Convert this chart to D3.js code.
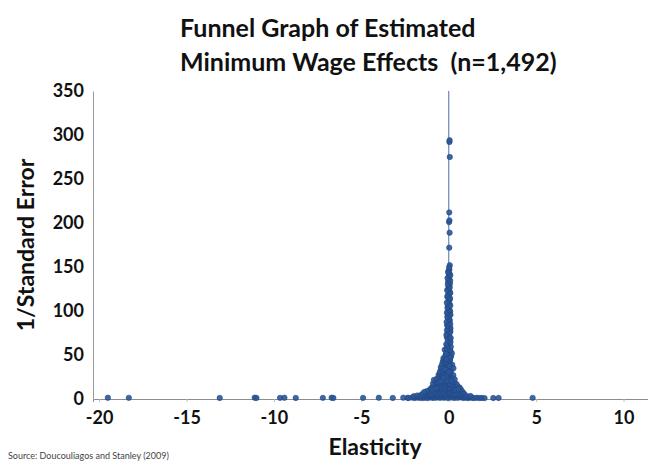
<!DOCTYPE html>
<html>
<head>
<meta charset="utf-8">
<script src="https://cdn.jsdelivr.net/npm/d3@7"></script>
<style>
  body { margin: 0; background: #fff; }
  text { font-family: Lato, "Open Sans", sans-serif; }
</style>
</head>
<body>
<div id="funnel"></div>
<script>
// tick labels
var xTicks = [-20, -15, -10, -5, 0, 5, 10];
var yTicks = [0, 50, 100, 150, 200, 250, 300, 350];

// low precision estimates scattered along the axis  [elasticity, 1/SE]
var tailPoints = [
  [-19.5, 1.4], [-18.3, 1.3], [-13.1, 1.2], [-11.1, 1.5], [-11.0, 1.2],
  [-9.65, 1.3], [-9.4, 1.4], [-8.75, 1.2], [-7.2, 1.3], [-6.7, 1.5],
  [-6.6, 1.2], [-4.9, 1.3], [-4.0, 1.4], [-3.2, 1.2], [-2.6, 1.5],
  [-2.35, 1.3], [2.55, 1.1], [2.85, 1.2], [4.8, 1.3]
];

// the broad base of the funnel
var basePoints = [
  [-2.3, 1.2], [-2.1, 1.6], [-1.95, 1.1], [-1.82, 1.8], [-1.7, 1.3], [-1.6, 2.1],
  [-1.52, 1.0], [-1.44, 2.6], [-1.36, 1.4], [-1.28, 2.9], [-1.21, 1.1], [-1.15, 3.4],
  [-1.08, 1.7], [-1.02, 2.4], [-0.96, 3.8], [-0.9, 1.2], [-0.84, 2.8], [-0.78, 4.1],
  [-0.72, 1.5], [-0.66, 3.2], [-0.6, 2.2], [-0.55, 4.6], [-0.5, 1.3], [-0.44, 3.6],
  [-0.38, 2.0], [-0.33, 4.9], [-0.27, 1.4], [-0.22, 3.1], [-0.16, 2.3], [-0.1, 4.4],
  [-0.05, 1.1], [0.02, 2.7], [0.08, 3.9], [0.14, 1.6], [0.2, 2.9], [0.26, 4.2],
  [0.32, 1.2], [0.38, 3.3], [0.45, 2.1], [0.52, 1.4], [0.6, 3.0], [0.68, 1.8],
  [0.76, 2.5], [0.84, 1.2], [0.93, 2.0], [1.02, 1.5], [1.12, 1.1], [1.22, 1.9],
  [1.33, 1.3], [1.45, 1.0], [1.6, 1.4], [1.75, 1.1], [1.9, 1.2], [2.05, 1.0],
  [-2.0, 3.2], [-1.8, 3.9], [-1.6, 4.3], [-1.3, 4.6], [-1.0, 4.8], [-0.7, 5.2],
  [-0.4, 5.4], [-0.15, 5.1], [0.1, 5.3], [0.35, 4.7], [0.6, 4.9], [0.85, 3.6],
  [1.05, 3.2], [1.25, 3.4],
  [-1.5, 5.8], [-1.3, 6.4], [-1.18, 7.9], [-1.05, 5.5], [-0.98, 8.6], [-0.88, 6.2],
  [-0.8, 9.4], [-0.74, 7.1], [-0.66, 10.2], [-0.6, 6.0], [-0.53, 8.3], [-0.47, 11.0],
  [-0.42, 6.8], [-0.37, 9.6], [-0.31, 7.5], [-0.26, 10.8], [-0.21, 5.9], [-0.16, 8.9],
  [-0.11, 11.6], [-0.06, 7.2], [-0.01, 9.9], [0.04, 6.4], [0.09, 8.1], [0.15, 10.5],
  [0.21, 6.9], [0.27, 9.2], [0.34, 5.7], [0.42, 7.8], [0.5, 6.3], [0.58, 8.8],
  [0.67, 5.4], [0.78, 6.7], [0.9, 5.6], [0.8, 8.0], [0.7, 10.8], [-1.1, 10.3],
  [-1.25, 9.0], [-1.4, 8.0]
];

// the body of the funnel, getting narrower with precision
var bodyPoints = [
  [-1.0, 12.5], [-0.88, 14.1], [-0.78, 13.0], [-0.7, 16.2], [-0.62, 12.8], [-0.55, 15.4],
  [-0.49, 18.0], [-0.43, 13.6], [-0.38, 16.9], [-0.33, 19.5], [-0.28, 14.3], [-0.23, 17.4],
  [-0.18, 12.9], [-0.13, 15.8], [-0.08, 19.0], [-0.03, 13.4], [0.02, 16.6], [0.07, 12.2],
  [0.12, 14.9], [0.18, 18.1], [0.25, 13.1], [0.32, 15.6], [0.4, 12.7], [0.5, 14.4],
  [0.62, 13.2], [-0.9, 17.5], [-0.75, 19.8], [-0.92, 10.8], [-0.72, 12.0], [0.38, 10.6],
  [0.45, 17.0], [0.55, 11.4], [0.22, 16.4], [0.3, 19.2], [0.05, 17.8],
  [-0.85, 21.6], [-0.62, 21.0], [-0.55, 24.5], [-0.48, 22.1], [-0.42, 26.3], [-0.37, 23.2],
  [-0.32, 28.4], [-0.27, 21.5], [-0.22, 25.1], [-0.17, 29.3], [-0.12, 22.8], [-0.07, 26.7],
  [-0.02, 24.0], [0.03, 28.0], [0.08, 21.9], [0.13, 25.6], [0.19, 23.3], [0.26, 27.1],
  [0.34, 22.4], [-0.68, 23.0], [-0.58, 27.5], [-0.5, 29.0], [-0.19, 20.4], [-0.14, 26.0],
  [-0.05, 20.7], [0.16, 20.6], [-0.57, 18.9], [-0.44, 20.2], [-0.36, 28.9], [-0.29, 24.7],
  [-0.24, 29.9], [0.1, 29.6],
  [-0.5, 31.2], [-0.42, 34.6], [-0.36, 32.0], [-0.3, 37.8], [-0.25, 33.5], [-0.2, 40.6],
  [-0.15, 35.9], [-0.1, 31.7], [-0.06, 38.4], [-0.02, 43.2], [0.02, 34.1], [0.06, 40.0],
  [0.1, 36.5], [0.15, 32.6], [0.2, 38.9], [0.27, 35.0], [-0.45, 36.2], [-0.38, 39.5],
  [-0.33, 42.8], [-0.28, 44.0], [-0.09, 33.3], [0.0, 30.5], [-0.2, 33.9], [-0.12, 41.1],
  [-0.08, 44.5], [0.04, 37.4], [0.08, 44.0],
  [-0.3, 46.5], [-0.23, 56.0], [-0.18, 49.8], [-0.12, 53.4], [-0.07, 47.2], [-0.03, 58.1],
  [0.01, 50.6], [0.05, 45.3], [0.09, 54.7], [0.13, 48.4], [0.18, 52.0], [-0.17, 46.0],
  [-0.12, 45.5], [0.1, 47.8], [-0.15, 51.2], [0.08, 55.5], [-0.1, 57.6], [0.12, 59.4]
];

// the high precision spike close to zero
var spinePoints = [
  [-0.08, 61], [0.05, 63.5], [-0.02, 66], [0.07, 68], [-0.11, 70.5], [0.02, 72],
  [-0.05, 74.5], [0.09, 77], [-0.03, 79], [0.04, 81.5], [-0.09, 84], [0.01, 86],
  [0.06, 89], [-0.04, 92], [0.03, 94.5], [-0.07, 97], [0.08, 99.5], [0.0, 102],
  [-0.05, 105], [0.04, 108], [-0.02, 111], [0.06, 113], [-0.08, 116], [0.02, 119],
  [0.05, 122], [-0.03, 125], [0.01, 128], [0.07, 131], [-0.04, 133], [0.03, 136],
  [0.0, 139], [0.05, 142], [-0.02, 145], [0.04, 147], [0.06, 152], [0.03, 172],
  [0.05, 189], [0.02, 201], [0.04, 203], [0.03, 212], [0.06, 275], [0.04, 292], [0.05, 294],
  [-0.14, 62.3], [0.1, 64.7], [-0.06, 67.2], [0.11, 69.3], [-0.13, 73.1], [0.08, 75.8],
  [-0.1, 78.2], [0.1, 80.4], [-0.06, 82.9], [0.09, 85.1], [-0.12, 87.6], [0.04, 90.3],
  [-0.08, 93.2], [0.1, 95.8], [-0.1, 98.4], [0.05, 100.9], [-0.07, 103.5], [0.09, 106.2],
  [-0.11, 109.4], [0.07, 114.6], [-0.06, 117.8], [0.09, 120.5], [-0.09, 123.6], [0.06, 126.7],
  [-0.05, 129.9], [0.08, 134.5], [-0.07, 137.4], [0.09, 140.6], [-0.03, 143.8], [0.02, 149.5]
];

var allPoints = tailPoints.concat(basePoints, bodyPoints, spinePoints);

var width = 648, height = 461;
var svg = d3.select("#funnel")
  .append("svg")
    .attr("width", width)
    .attr("height", height);

svg.append("rect")
  .attr("width", width)
  .attr("height", height)
  .attr("fill", "#fff");

var x = d3.scaleLinear()
  .domain([-20.35, 11.4])
  .range([93, 648]);

var y = d3.scaleLinear()
  .domain([0, 350])
  .range([399, 91]);

// axes (plain hyphen for negatives, like the original)
var xAxis = svg.append("g")
  .attr("transform", "translate(0," + y(0) + ")")
  .call(d3.axisBottom(x).tickValues(xTicks).tickSize(3).tickPadding(9)
    .tickFormat(function(d){ return String(d) }));
xAxis.select(".domain").attr("stroke", "#8c8c8c");
xAxis.selectAll(".tick line").attr("stroke", "#bdbdbd");

var yAxis = svg.append("g")
  .attr("transform", "translate(" + x(-20.35) + ",0)")
  .call(d3.axisLeft(y).tickValues(yTicks).tickSize(0).tickPadding(9));
yAxis.select(".domain").attr("stroke", "#9a9a9a");

svg.selectAll(".tick text")
  .style("font-family", "Lato, sans-serif")
  .style("font-size", "18px")
  .style("font-weight", "bold")
  .attr("fill", "#111");

// vertical reference line at zero
svg.append("line")
  .attr("x1", x(0)).attr("x2", x(0))
  .attr("y1", y(0)).attr("y2", y(350))
  .attr("stroke", "#6f87b3")
  .attr("stroke-width", 1.2);

svg.selectAll("mypoints")
  .data(allPoints)
  .enter()
  .append("circle")
    .attr("cx", function(d){ return x(d[0]) })
    .attr("cy", function(d){ return y(d[1]) })
    .attr("r", 2.7)
    .attr("fill", "#2c5797")
    .attr("stroke", "#1f4784")
    .attr("stroke-width", 0.6)
    .attr("fill-opacity", 0.9);

// titles
svg.append("text")
  .attr("x", 180).attr("y", 37)
  .text("Funnel Graph of Estimated")
  .style("font-size", "25px").style("font-weight", "bold").attr("fill", "#111");

svg.append("text")
  .attr("x", 180).attr("y", 71)
  .attr("xml:space", "preserve")
  .text("Minimum Wage Effects  (n=1,492)")
  .style("font-size", "25px").style("font-weight", "bold").attr("fill", "#111");

svg.append("text")
  .attr("text-anchor", "middle")
  .attr("transform", "translate(34,245)rotate(-90)")
  .text("1/Standard Error")
  .style("font-size", "23px").style("font-weight", "bold").attr("fill", "#111");

svg.append("text")
  .attr("x", 375).attr("y", 455)
  .attr("text-anchor", "middle")
  .text("Elasticity")
  .style("font-size", "23px").style("font-weight", "bold").attr("fill", "#111");

svg.append("text")
  .attr("x", 8).attr("y", 459)
  .text("Source: Doucouliagos and Stanley (2009)")
  .style("font-size", "9px").attr("fill", "#444");
</script>
</body>
</html>
